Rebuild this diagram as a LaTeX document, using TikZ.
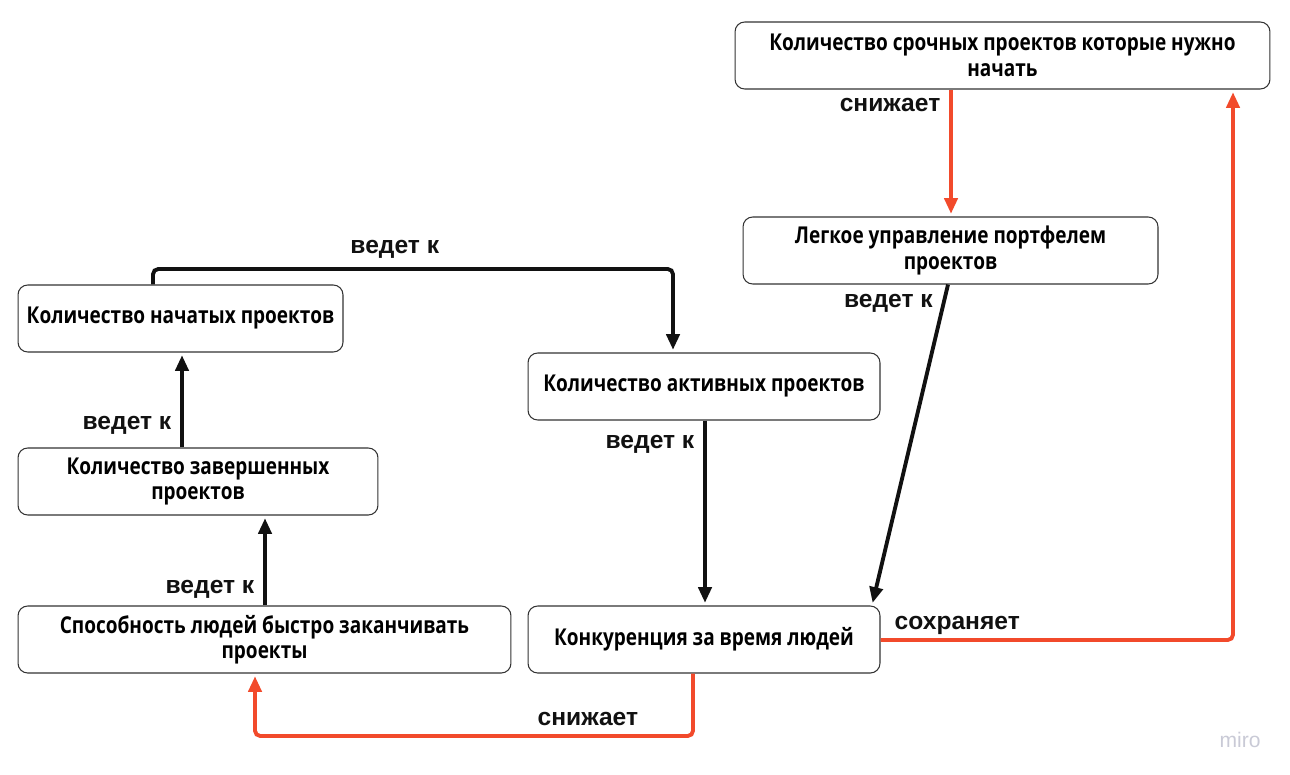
\documentclass[tikz,border=0pt]{standalone}
\usepackage{fontspec}
\setmainfont{Liberation Sans}
\newfontfamily\boxfont[FakeStretch=0.82]{Open Sans}
\usetikzlibrary{arrows.meta}
\definecolor{miroRed}{HTML}{F24A2B}
\definecolor{miroBlack}{HTML}{111111}
\definecolor{miroGray}{HTML}{C9CAD6}

\begin{document}
\begin{tikzpicture}%
    [x = 0.02cm, y = -0.02cm,
     box/.style = {draw = black!80, line width = 0.6pt, rounded corners = 5.5pt, fill = white,
                   align = center, inner sep = 0pt, minimum height = 1.34cm,
                   font = \boxfont\bfseries\fontsize{13.2}{14.5}\selectfont},
     lbl/.style = {text = miroBlack, font = \bfseries\fontsize{14}{16}\selectfont, inner sep = 5pt},
     leads/.style = {-{Triangle[length = 9pt, width = 7.5pt]}, miroBlack, line width = 2.2pt,
                     rounded corners = 3pt, shorten > = 1.5pt},
     cuts/.style = {-{Triangle[length = 9pt, width = 7.5pt]}, miroRed, line width = 2.2pt,
                    rounded corners = 3pt, shorten > = 1.5pt}]
    \useasboundingbox (0,0) rectangle (1290,774);

    \node[box, minimum width = 10.7cm] (urgent) at (1002.5,55.5) {Количество срочных проектов которые нужно\\начать};
    \node[box, minimum width = 8.3cm] (portfolio) at (950.5,250.5) {Легкое управление портфелем\\проектов};
    \node[box, minimum width = 6.5cm] (started) at (180.5,318.5) {Количество начатых проектов};
    \node[box, minimum width = 7.04cm] (active) at (704,386.5) {Количество активных проектов};
    \node[box, minimum width = 7.2cm] (finished) at (198,481.5) {Количество завершенных\\проектов};
    \node[box, minimum width = 9.86cm] (ability) at (264.5,639.5) {Способность людей быстро заканчивать\\проекты};
    \node[box, minimum width = 7.04cm] (competition) at (704,639.5) {Конкуренция за время людей};

    \draw [cuts] (urgent.south -| 951,0) -- node[lbl, pos = 0.12, left] (lowers1) {снижает} (portfolio.north -| 951,0);
    \draw [leads] (portfolio.south -| 948,0) -- node[lbl, pos = 0.06, left] (leads1) {ведет к} (competition.north -| 872,0);
    \draw [leads] (started.north -| 153,0) -- (153,269) -- node[lbl, pos = 0.465, above] (leads2) {ведет к} (673,269) -- (active.north -| 673,0);
    \draw [leads] (active.south -| 705,0) -- node[lbl, pos = 0.13, left] (leads3) {ведет к} (competition.north -| 705,0);
    \draw [leads] (finished.north -| 182,0) -- node[lbl, pos = 0.23, left] (leads4) {ведет к} (started.south -| 182,0);
    \draw [leads] (ability.north -| 265,0) -- node[lbl, pos = 0.18, left] (leads5) {ведет к} (finished.south -| 265,0);

    \draw [cuts] (competition.east |- 0,640) -- node[lbl, pos = 0.01, above right, yshift = -3pt] (keeps) {сохраняет} (1233,640) -- (urgent.south -| 1233,0);
    \draw [cuts] (competition.south -| 693,0) -- (693,736) -- node[lbl, pos = 0.24, above] (lowers2) {снижает} (255,736) -- (ability.south -| 255,0);

    \node[miroGray, font = \fontsize{12}{12}\selectfont] (miro) at (1240,740) {miro};
\end{tikzpicture}
\end{document}
